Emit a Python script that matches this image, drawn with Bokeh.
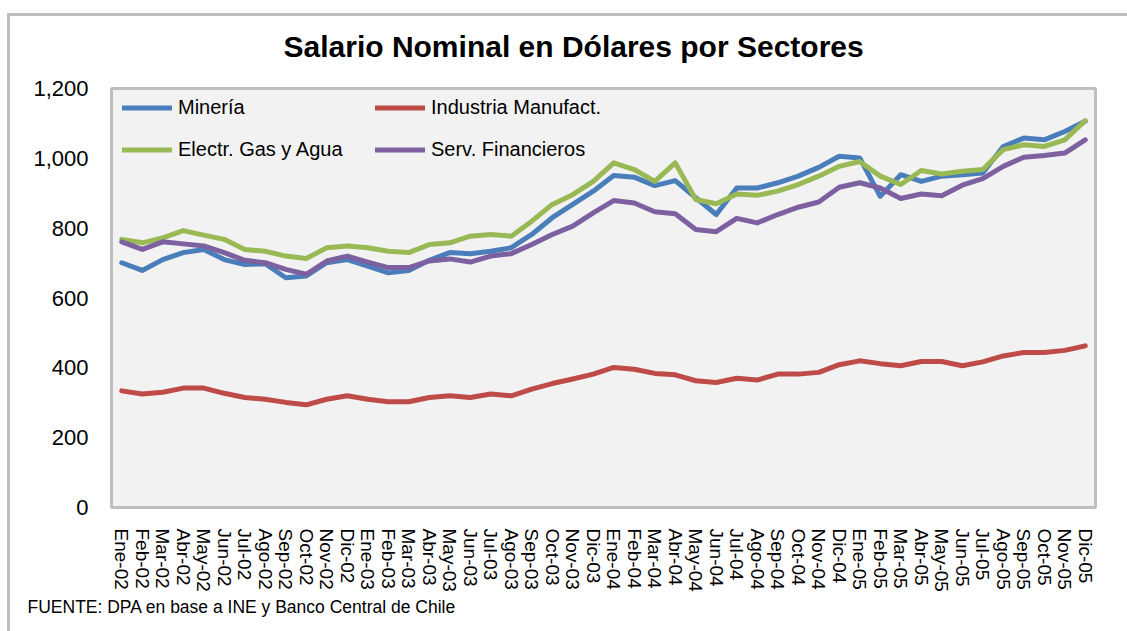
from bokeh.plotting import figure
from bokeh.models import (FactorRange, FixedTicker, NumeralTickFormatter, Legend,
                          LegendItem, Title)
from bokeh.embed import file_html
from bokeh.resources import INLINE

month_names = ["Ene", "Feb", "Mar", "Abr", "May", "Jun", "Jul", "Ago", "Sep", "Oct", "Nov", "Dic"]
years = ["02", "03", "04", "05"]
months = [f"{m}-{y}" for y in years for m in month_names]

mineria = [701, 679, 710, 730, 739, 710, 696, 698, 658, 663, 701, 710,
           691, 672, 679, 708, 730, 727, 734, 744, 782, 830, 868, 906,
           951, 946, 922, 936, 887, 839, 915, 915, 930, 949, 974, 1006,
           1001, 891, 953, 934, 949, 953, 958, 1034, 1058, 1053, 1077, 1106]
industria = [334, 325, 330, 342, 342, 327, 315, 310, 301, 294, 310, 320,
             310, 303, 303, 315, 320, 315, 325, 320, 339, 355, 368, 382,
             401, 396, 384, 380, 363, 358, 370, 365, 382, 382, 387, 409,
             420, 412, 406, 418, 418, 406, 417, 434, 444, 444, 450, 463]
electr = [768, 758, 772, 793, 780, 768, 739, 734, 720, 713, 744, 749,
          744, 734, 730, 753, 758, 777, 782, 777, 820, 868, 896, 934,
          987, 968, 934, 987, 882, 870, 898, 894, 906, 925, 949, 977,
          991, 949, 925, 965, 955, 963, 968, 1025, 1039, 1034, 1053, 1108]
serv_fin = [761, 739, 761, 755, 749, 730, 708, 701, 682, 668, 706, 720,
            703, 687, 687, 706, 712, 703, 720, 727, 753, 782, 806, 844,
            879, 872, 847, 841, 796, 790, 828, 815, 839, 860, 875, 917,
            930, 915, 885, 898, 893, 923, 942, 977, 1003, 1008, 1015, 1053]

series_names = ["Minería", "Industria Manufact.", "Electr. Gas y Agua", "Serv. Financieros"]
y_ticks = [0, 200, 400, 600, 800, 1000, 1200]
title_text = "Salario Nominal en Dólares por Sectores"
source_text = "FUENTE: DPA en base a INE y Banco Central de Chile"

FONT = "Liberation Sans"

p = figure(width=1127, height=631, output_backend="svg", toolbar_location=None,
           x_range=FactorRange(factors=months), y_range=(0, 1200),
           min_border_left=111, min_border_right=32, min_border_top=88, min_border_bottom=124,
           title=title_text)

# outer chart border (light grey, top + left) drawn as page background behind a transparent border area
p.border_fill_alpha = 0
p.styles = {
    "background": "linear-gradient(#BFBFBF, #BFBFBF) 7px 13px / 3px 640px no-repeat, "
                  "linear-gradient(#BFBFBF, #BFBFBF) 7px 13px / 1140px 3px no-repeat, #FFFFFF"
}

p.background_fill_color = "#F2F2F2"
p.outline_line_color = "#BFBFBF"
p.outline_line_width = 3
p.xgrid.visible = False
p.ygrid.visible = False

p.title.text_font = FONT
p.title.text_font_size = "30px"
p.title.text_font_style = "bold"
p.title.text_color = "black"
p.title.align = "left"
p.title.offset = 172
p.title.standoff = 52

for ax in (p.xaxis[0], p.yaxis[0]):
    ax.axis_line_color = None
    ax.major_tick_line_color = None
    ax.minor_tick_line_color = None
    ax.major_tick_out = 0
    ax.major_tick_in = 0
    ax.major_label_text_font = FONT
    ax.major_label_text_color = "black"

p.yaxis.ticker = FixedTicker(ticks=y_ticks)
p.yaxis.formatter = NumeralTickFormatter(format="0,0")
p.yaxis.major_label_text_font_size = "22px"
p.yaxis.major_label_standoff = 23

p.xaxis.major_label_orientation = "vertical"
p.xaxis.major_label_text_font_size = "19px"
p.xaxis.major_label_standoff = 21

colors = ["#4A7EBB", "#BE4B48", "#98B954", "#7D60A0"]
data = [mineria, industria, electr, serv_fin]
rends = []
for vals, c in zip(data, colors):
    r = p.line(x=months, y=vals, line_color=c, line_width=5, line_join="round", line_cap="round")
    rends.append(r)

def make_legend(items, x):
    return Legend(items=items, location=(x, 346), orientation="vertical",
                  padding=0, margin=0, spacing=19, glyph_width=50, glyph_height=23,
                  label_height=23, label_standoff=6, border_line_color=None,
                  background_fill_alpha=0, label_text_font=FONT,
                  label_text_font_size="20px", label_text_color="black")

leg1 = make_legend([LegendItem(label=series_names[0], renderers=[rends[0]]),
                    LegendItem(label=series_names[2], renderers=[rends[2]])], 11)
leg2 = make_legend([LegendItem(label=series_names[1], renderers=[rends[1]]),
                    LegendItem(label=series_names[3], renderers=[rends[3]])], 264)
p.add_layout(leg1, "center")
p.add_layout(leg2, "center")

footer = Title(text=source_text, align="left", offset=-84, standoff=0,
               vertical_align="bottom",
               text_font=FONT, text_font_size="17.5px", text_font_style="normal",
               text_color="black")
p.add_layout(footer, "below")

open("out.html", "w").write(file_html(p, INLINE))
